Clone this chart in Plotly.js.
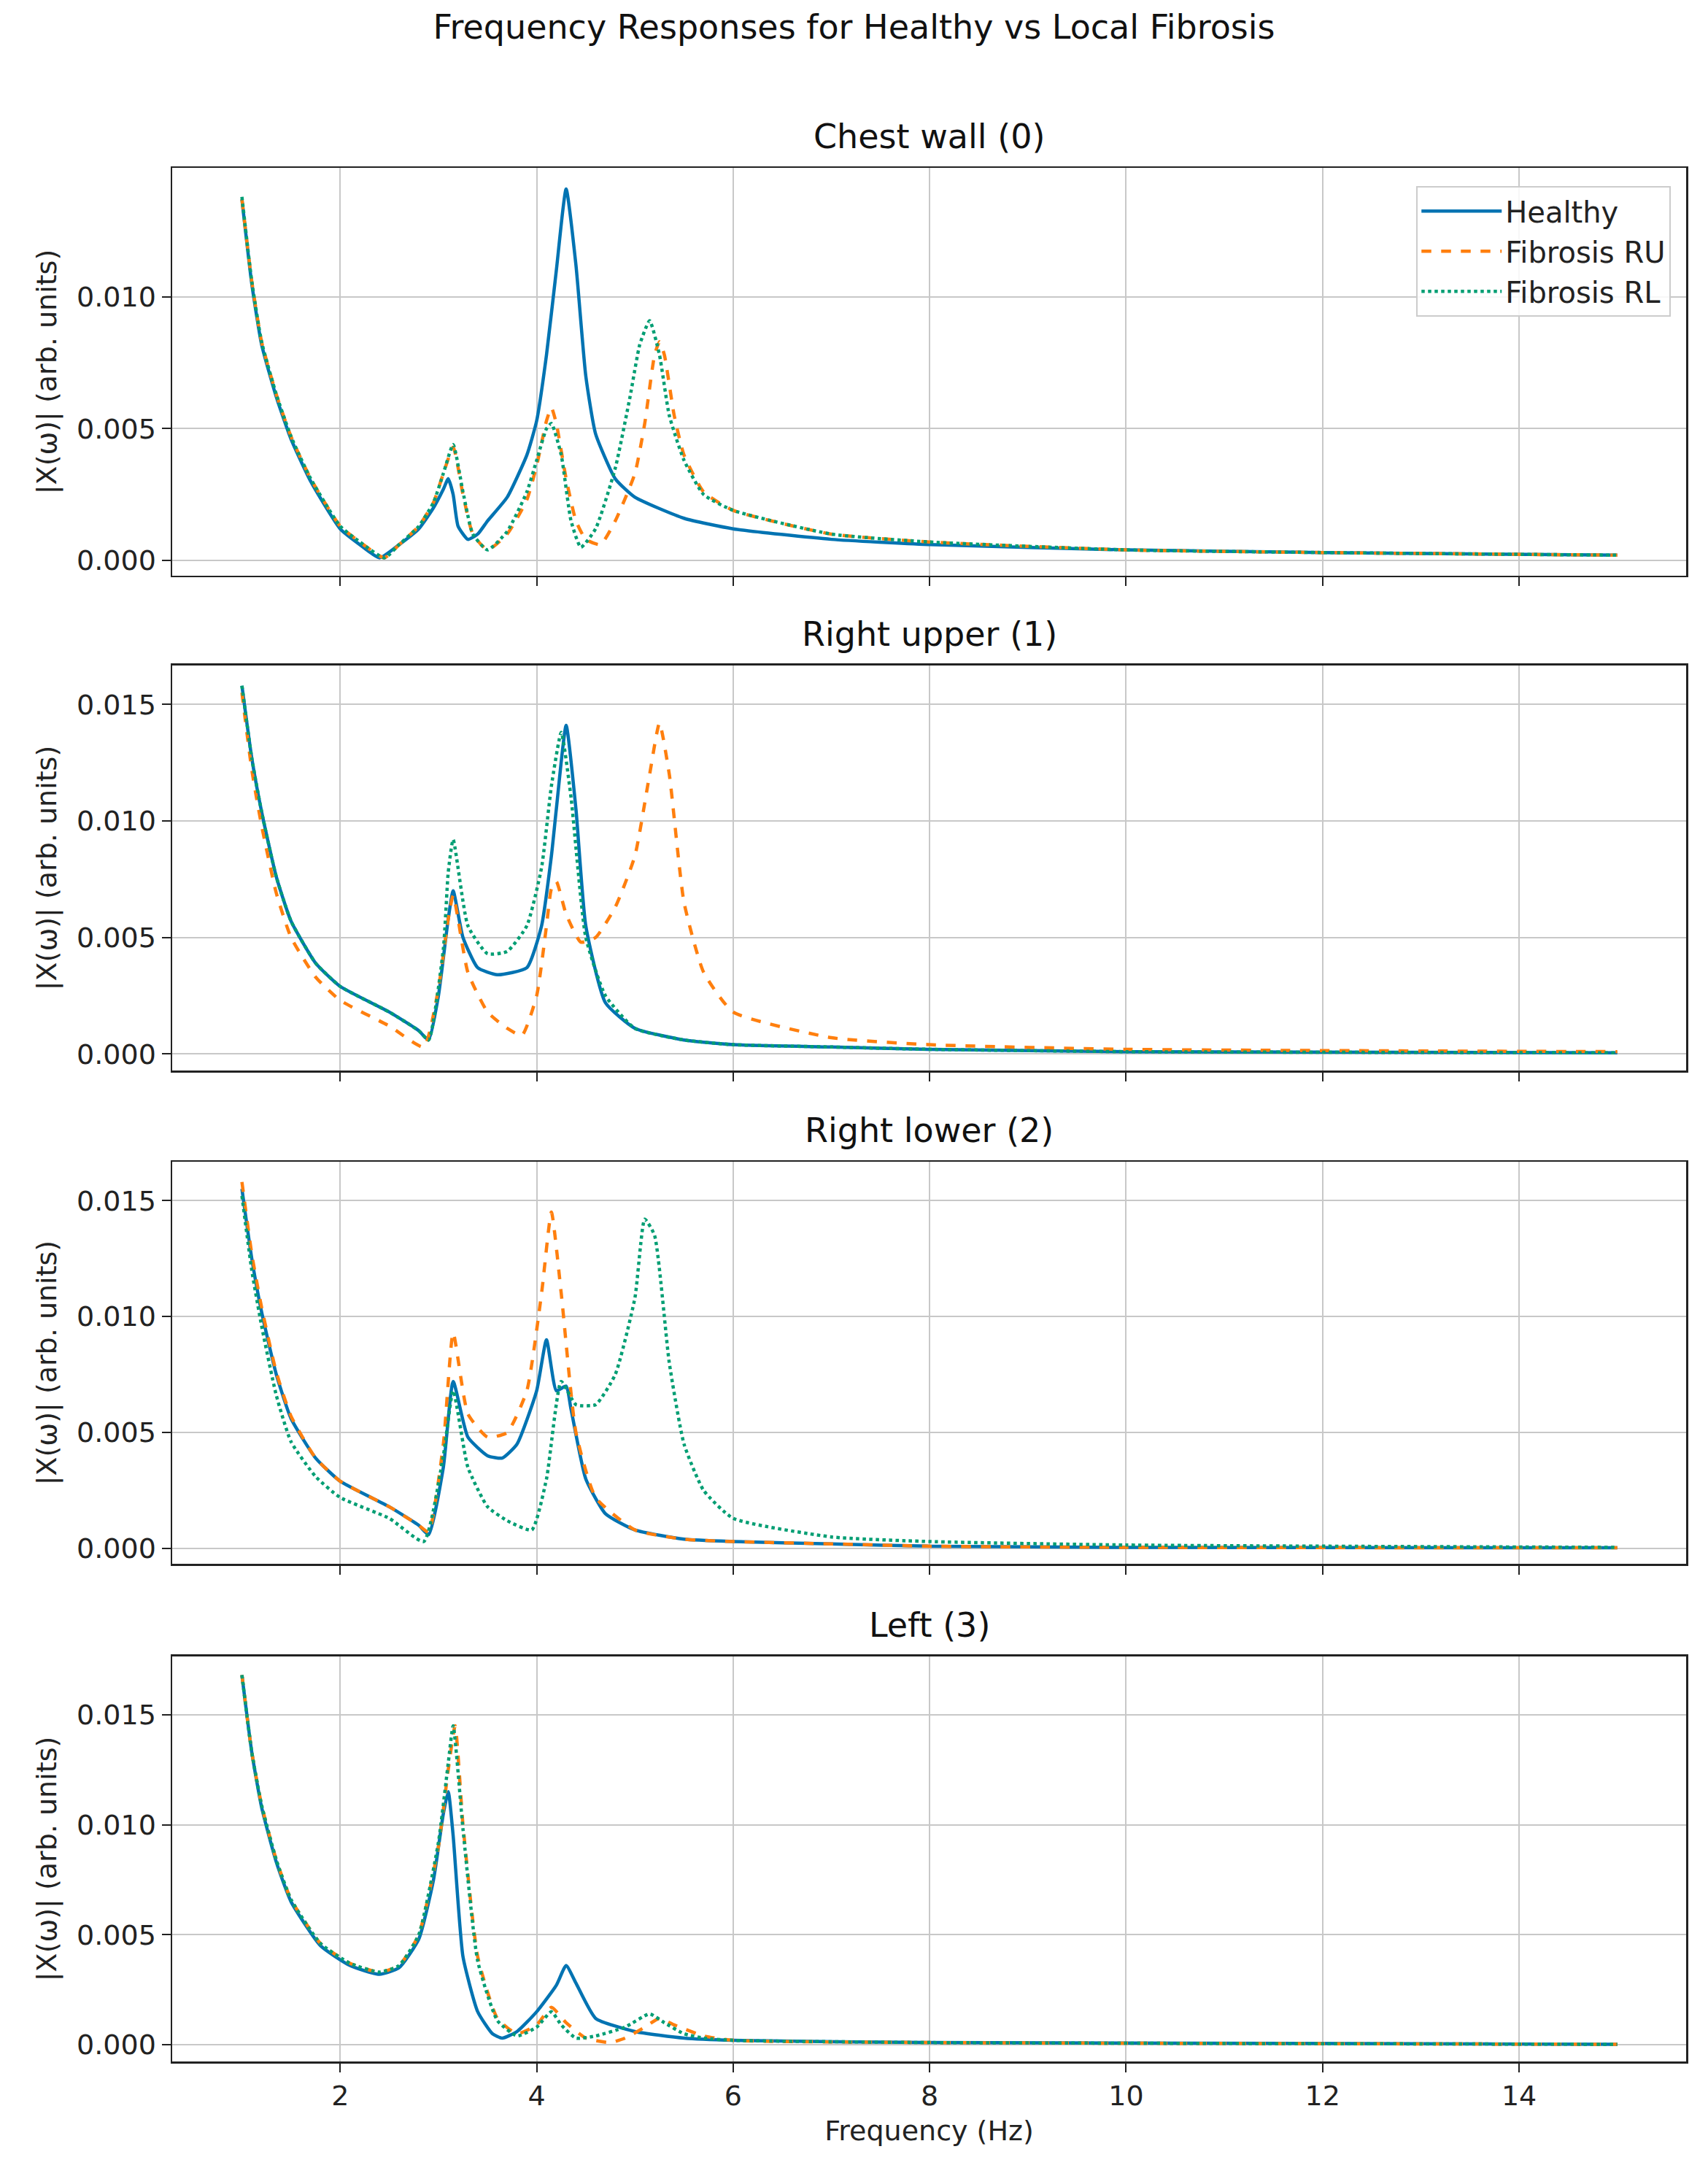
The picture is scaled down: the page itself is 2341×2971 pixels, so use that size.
<!DOCTYPE html>
<html><head><meta charset="utf-8">
<script src="https://cdn.plot.ly/plotly-3.0.1.min.js"></script>
<style>body{margin:0;background:#fff}</style></head>
<body><div id="c" style="width:2341px;height:2971px"></div>
<script>
const panelTitles = ["Chest wall (0)","Right upper (1)","Right lower (2)","Left (3)"];
const seriesNames = ["Healthy","Fibrosis RU","Fibrosis RL"];
const xTicks = [2,4,6,8,10,12,14];
const yTicks = [0,0.005,0.010,0.015];

// Panel 0: Chest wall
const p0_h_x = [1.0,1.1,1.2,1.35,1.5,1.7,2.0,2.2,2.4,2.6,2.8,2.95,3.05,3.1,3.15,3.2,3.3,3.4,3.5,3.7,3.9,4.0,4.1,4.2,4.3,4.4,4.5,4.6,4.8,5.0,5.5,6,7,8,10,12,15];
const p0_h_y = [0.0137,0.0105,0.0082,0.0062,0.0046,0.0030,0.0012,0.0006,0.0001,0.0006,0.0012,0.0020,0.0027,0.0031,0.0025,0.0013,0.0008,0.0010,0.0015,0.0024,0.0040,0.0053,0.0078,0.0110,0.0141,0.0112,0.0070,0.0048,0.0031,0.0024,0.0016,0.0012,0.0008,0.0006,0.0004,0.0003,0.0002];
const p0_ru_x = [1.0,1.1,1.2,1.35,1.5,1.7,2.0,2.2,2.45,2.6,2.8,2.95,3.05,3.15,3.25,3.35,3.5,3.7,3.9,4.0,4.1,4.15,4.2,4.3,4.4,4.5,4.65,4.8,5.0,5.1,5.2,5.25,5.3,5.4,5.5,5.7,6,7,8,10,12,15];
const p0_ru_y = [0.0137,0.0106,0.0083,0.0063,0.0047,0.0031,0.0013,0.0007,0.0001,0.0006,0.0013,0.0022,0.0033,0.0043,0.0025,0.0010,0.0004,0.0010,0.0023,0.0036,0.0053,0.0058,0.0052,0.0031,0.0015,0.0008,0.0006,0.0015,0.0033,0.0052,0.0078,0.0083,0.0078,0.0055,0.0040,0.0026,0.0019,0.0010,0.0007,0.0004,0.0003,0.0002];
const p0_rl_x = [1.0,1.1,1.2,1.35,1.5,1.7,2.0,2.2,2.45,2.6,2.8,2.95,3.05,3.15,3.25,3.35,3.5,3.7,3.9,4.0,4.1,4.15,4.25,4.35,4.45,4.6,4.8,4.95,5.05,5.15,5.25,5.35,5.5,5.7,6,7,8,10,12,15];
const p0_rl_y = [0.0138,0.0106,0.0083,0.0063,0.0047,0.0031,0.0013,0.0007,0.0001,0.0006,0.0013,0.0022,0.0033,0.0044,0.0026,0.0010,0.0004,0.0011,0.0026,0.0038,0.0050,0.0052,0.0040,0.0015,0.0005,0.0012,0.0035,0.0062,0.0082,0.0091,0.0078,0.0055,0.0038,0.0025,0.0019,0.0010,0.0007,0.0004,0.0003,0.0002];

// Panel 1: Right upper
const p1_h_x = [1.0,1.1,1.2,1.35,1.5,1.75,2.0,2.5,2.8,2.9,3.0,3.1,3.15,3.25,3.4,3.6,3.9,4.05,4.15,4.2,4.3,4.4,4.5,4.7,5.0,5.5,6,7,8,10,15];
const p1_h_y = [0.0158,0.0127,0.0104,0.0076,0.0057,0.0039,0.0029,0.0018,0.0010,0.0006,0.0025,0.0058,0.0070,0.0050,0.0037,0.0034,0.0037,0.0055,0.0085,0.0105,0.0141,0.0105,0.0055,0.0022,0.0011,0.0006,0.0004,0.0003,0.0002,0.0001,0.00005];
const p1_ru_x = [1.0,1.1,1.2,1.35,1.5,1.75,2.0,2.5,2.85,3.0,3.1,3.15,3.3,3.5,3.7,3.85,4.0,4.1,4.15,4.2,4.3,4.45,4.6,4.8,5.0,5.15,5.25,5.35,5.5,5.7,6,7,8,10,15];
const p1_ru_y = [0.0155,0.0122,0.0098,0.0069,0.0050,0.0033,0.0023,0.0012,0.0003,0.0028,0.0058,0.0068,0.0035,0.0018,0.0011,0.0008,0.0025,0.0055,0.0071,0.0074,0.0060,0.0048,0.0050,0.0063,0.0085,0.0120,0.0142,0.0120,0.0065,0.0035,0.0018,0.0007,0.0004,0.0002,0.0001];
const p1_rl_x = [1.0,1.1,1.2,1.35,1.5,1.75,2.0,2.5,2.8,2.9,3.05,3.1,3.15,3.3,3.5,3.7,3.9,4.05,4.15,4.25,4.35,4.5,4.7,5.0,5.5,6,7,8,10,15];
const p1_rl_y = [0.0158,0.0127,0.0104,0.0076,0.0057,0.0039,0.0029,0.0018,0.0010,0.0006,0.0045,0.0078,0.0092,0.0055,0.0043,0.0044,0.0055,0.0080,0.0115,0.0138,0.0110,0.0050,0.0025,0.0011,0.0006,0.0004,0.0003,0.0002,0.0001,0.00005];

// Panel 2: Right lower
const p2_h_x = [1.0,1.1,1.2,1.35,1.5,1.75,2.0,2.5,2.8,2.9,3.05,3.15,3.3,3.5,3.65,3.8,4.0,4.1,4.2,4.3,4.35,4.5,4.7,5.0,5.5,6,7,8,10,15];
const p2_h_y = [0.0155,0.0125,0.0102,0.0075,0.0056,0.0039,0.0029,0.0018,0.0010,0.0006,0.0035,0.0072,0.0048,0.0040,0.0039,0.0045,0.0068,0.0090,0.0068,0.0070,0.0060,0.0030,0.0015,0.0008,0.0004,0.0003,0.0002,0.0001,0.00005,0.00003];
const p2_ru_x = [1.0,1.1,1.2,1.35,1.5,1.75,2.0,2.5,2.8,2.9,3.05,3.15,3.3,3.5,3.7,3.9,4.05,4.15,4.25,4.4,4.6,5.0,5.5,6,7,8,10,15];
const p2_ru_y = [0.0158,0.0127,0.0104,0.0076,0.0057,0.0039,0.0029,0.0018,0.0010,0.0007,0.0045,0.0093,0.0058,0.0048,0.0050,0.0068,0.0110,0.0145,0.0110,0.0050,0.0022,0.0008,0.0004,0.0003,0.0002,0.0001,0.00005,0.00003];
const p2_rl_x = [1.0,1.1,1.2,1.35,1.5,1.75,2.0,2.5,2.85,3.05,3.15,3.3,3.5,3.7,3.95,4.1,4.25,4.4,4.6,4.8,5.0,5.1,5.2,5.35,5.5,5.7,6,7,8,10,15];
const p2_rl_y = [0.0152,0.0120,0.0096,0.0066,0.0046,0.0031,0.0022,0.0013,0.0003,0.0040,0.0068,0.0035,0.0018,0.0012,0.0008,0.0030,0.0072,0.0062,0.0062,0.0075,0.0108,0.0142,0.0135,0.0080,0.0045,0.0025,0.0013,0.0005,0.0003,0.00015,0.00005];

// Panel 3: Left
const p3_h_x = [1.0,1.1,1.2,1.35,1.5,1.8,2.1,2.4,2.6,2.8,2.95,3.05,3.1,3.15,3.25,3.4,3.55,3.65,3.8,4.0,4.2,4.3,4.4,4.6,5.0,5.5,6,8,15];
const p3_h_y = [0.0168,0.0133,0.0108,0.0083,0.0065,0.0045,0.0036,0.0032,0.0035,0.0048,0.0075,0.0105,0.0115,0.0095,0.0040,0.0015,0.0005,0.0003,0.0006,0.0015,0.0027,0.0036,0.0028,0.0012,0.0006,0.0003,0.0002,0.0001,0.00002];
const p3_ru_x = [1.0,1.1,1.2,1.35,1.5,1.8,2.1,2.4,2.6,2.8,3.0,3.1,3.17,3.25,3.4,3.6,3.8,4.0,4.15,4.3,4.5,4.75,4.9,5.1,5.25,5.4,5.7,6,8,15];
const p3_ru_y = [0.0168,0.0133,0.0109,0.0084,0.0066,0.0046,0.0037,0.0033,0.0036,0.0050,0.0090,0.0125,0.0145,0.0100,0.0040,0.0012,0.0005,0.0009,0.0017,0.0010,0.0003,0.0001,0.0003,0.0008,0.0012,0.0009,0.0004,0.0002,0.0001,0.00002];
const p3_rl_x = [1.0,1.1,1.2,1.35,1.5,1.8,2.1,2.4,2.6,2.8,3.0,3.1,3.15,3.25,3.4,3.6,3.8,4.0,4.15,4.25,4.4,4.6,4.9,5.15,5.3,5.5,5.7,6,8,15];
const p3_rl_y = [0.0168,0.0133,0.0109,0.0084,0.0066,0.0046,0.0037,0.0033,0.0036,0.0050,0.0092,0.0128,0.0145,0.0098,0.0038,0.0011,0.0004,0.0008,0.0015,0.0009,0.0003,0.0004,0.0008,0.0014,0.0010,0.0005,0.0003,0.0002,0.0001,0.00002];

const panels = [
 [[p0_h_x,p0_h_y],[p0_ru_x,p0_ru_y],[p0_rl_x,p0_rl_y]],
 [[p1_h_x,p1_h_y],[p1_ru_x,p1_ru_y],[p1_rl_x,p1_rl_y]],
 [[p2_h_x,p2_h_y],[p2_ru_x,p2_ru_y],[p2_rl_x,p2_rl_y]],
 [[p3_h_x,p3_h_y],[p3_ru_x,p3_ru_y],[p3_rl_x,p3_rl_y]]
];
const colorsMpl = ["#0173b2","#ff7f0e","#029e73"];
const dashes = ["solid","dash","dot"];
const domains = [[0.7846,1],[0.5233,0.7372],[0.2628,0.4751],[0,0.2139]];
const yRanges = [[-0.00058,0.0149],[-0.00071,0.01667],[-0.00066,0.01667],[-0.00076,0.01765]];
const yTickSets = [[0,0.005,0.010],yTicks,yTicks,yTicks];

const F = "DejaVu Sans";
const traces = [];
const layout = {
  width:2341,height:2971,paper_bgcolor:"#fff",plot_bgcolor:"#fff",
  margin:{l:236,r:30,t:230,b:146},
  font:{family:F,size:38,color:"#222"},
  title:{text:"Frequency Responses for Healthy vs Local Fibrosis",x:0.5,xanchor:"center",y:0.993,yanchor:"top",font:{family:F,size:46,color:"#111"}},
  legend:{x:0.99,y:0.9905,xanchor:"right",yanchor:"top",bgcolor:"rgba(255,255,255,0.85)",bordercolor:"#ccc",borderwidth:2,font:{family:F,size:40,color:"#222"},tracegroupgap:0,itemwidth:110},
  annotations:[],showlegend:true
};
panels.forEach((p,i)=>{
  const ax = i===0?"":String(i+1);
  p.forEach((s,j)=>{
    traces.push({x:s[0],y:s[1],type:"scatter",mode:"lines",name:seriesNames[j],showlegend:i===0,
      xaxis:"x"+ax,yaxis:"y"+ax,line:{color:colorsMpl[j],dash:dashes[j],width:4.5,shape:"spline",smoothing:0.5}});
  });
  layout["xaxis"+ax] = {domain:[0,1],range:[0.29,15.70],tickvals:xTicks,ticktext:xTicks.map(String),
    showticklabels:i===3,ticks:"outside",ticklen:12,tickwidth:2,tickcolor:"#222",
    showgrid:true,gridcolor:"#c8c8c8",gridwidth:2,zeroline:false,showline:true,linecolor:"#222",linewidth:2.5,mirror:true,
    anchor:"y"+ax,tickfont:{family:F,size:38,color:"#222"},
    title: i===3?{text:"Frequency (Hz)",font:{family:F,size:38,color:"#222"},standoff:14}:undefined};
  layout["yaxis"+ax] = {domain:domains[i],range:yRanges[i],tickvals:yTickSets[i],ticktext:yTickSets[i].map(v=>v.toFixed(3)),
    ticks:"outside",ticklen:12,tickwidth:2,tickcolor:"#222",
    showgrid:true,gridcolor:"#c8c8c8",gridwidth:2,zeroline:false,showline:true,linecolor:"#222",linewidth:2.5,mirror:true,
    anchor:"x"+ax,tickfont:{family:F,size:38,color:"#222"},
    title:{text:"|X(ω)| (arb. units)",font:{family:F,size:38,color:"#222"},standoff:16}};
  layout.annotations.push({text:panelTitles[i],xref:"paper",yref:"paper",x:0.5,y:domains[i][1],yshift:14,
    xanchor:"center",yanchor:"bottom",showarrow:false,font:{family:F,size:46,color:"#111"}});
});
Plotly.newPlot("c",traces,layout,{staticPlot:true});
</script></body></html>
